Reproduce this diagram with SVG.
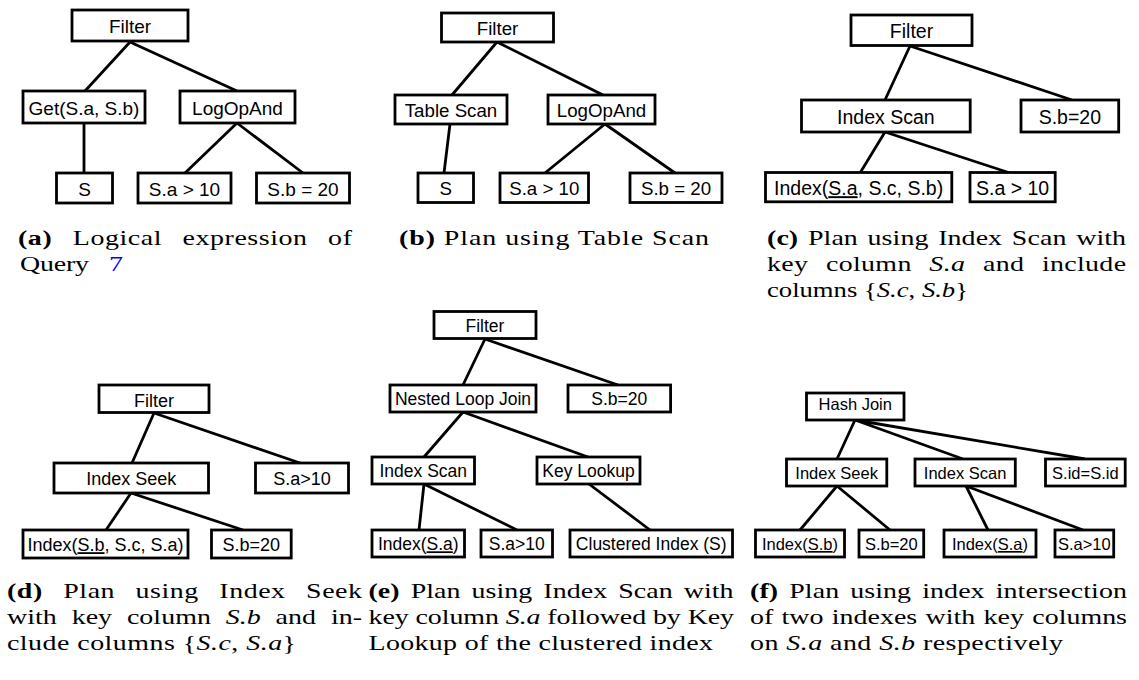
<svg xmlns="http://www.w3.org/2000/svg" width="1139" height="680" viewBox="0 0 1139 680">
<style>
.box{fill:#fff;stroke:#000;stroke-width:2.8}
.edge{stroke:#000;stroke-width:2.8;fill:none}
.lbl{font-family:"Liberation Sans",Arial,sans-serif;fill:#000;text-anchor:middle}
.pa{font-size:19px}.pb{font-size:18.7px}.pc{font-size:19.5px}.pd{font-size:18px}.pe{font-size:17.5px}.pf{font-size:16.5px}
.cap{font-family:"Liberation Serif","Times New Roman",serif;font-size:21.5px;fill:#000}
.ref{fill:#0000ff}
.b{font-weight:bold}.i{font-style:italic}
.u{text-decoration:underline}
</style>
<rect width="1139" height="680" fill="#fff"/>
<g id="connectors">
<path class="edge" d="M130,42 L85,91 M130,42 L237,91 M84,123 L84,173 M237,123 L185,173 M237,123 L303,173"/>
<path class="edge" d="M497,42 L452,95 M497,42 L603,95 M450,124 L444,173 M605,124 L545,173 M605,124 L675,173"/>
<path class="edge" d="M910,46 L885,100 M910,46 L1072,100 M885,132 L860,173 M885,132 L1010,173"/>
<path class="edge" d="M154,413 L132,463 M154,413 L300,463 M131,493 L106,530 M131,493 L243,530"/>
<path class="edge" d="M485,339 L463,385 M485,339 L618,385 M463,412 L424,457 M463,412 L588,457 M424,484 L419,530 M424,484 L517,530 M589,484 L650,530"/>
<path class="edge" d="M855,420 L837,459 M855,420 L963,459 M855,420 L1085,459 M837,486 L800,530 M837,486 L890,530 M966,486 L988,530 M966,486 L1083,530"/>
</g>
<!-- panel a -->
<g id="a-filter"><rect class="box" x="72" y="10" width="116" height="31"/><text class="lbl pa" x="130" y="33">Filter</text></g>
<g id="a-get"><rect class="box" x="23" y="91" width="122" height="32"/><text class="lbl pa" x="84" y="114.5">Get(S.a, S.b)</text></g>
<g id="a-logop"><rect class="box" x="180" y="91" width="115" height="32"/><text class="lbl pa" x="237.5" y="114.5">LogOpAnd</text></g>
<g id="a-s"><rect class="box" x="56.5" y="173" width="56" height="30"/><text class="lbl pa" x="84.5" y="195.5">S</text></g>
<g id="a-sa"><rect class="box" x="138" y="173" width="93" height="30"/><text class="lbl pa" x="184.5" y="195.5">S.a &gt; 10</text></g>
<g id="a-sb"><rect class="box" x="256.5" y="173" width="93" height="30"/><text class="lbl pa" x="303" y="195.5">S.b = 20</text></g>
<!-- panel b -->
<g id="b-filter"><rect class="box" x="441.5" y="13" width="112" height="29"/><text class="lbl pb" x="497.5" y="35">Filter</text></g>
<g id="b-table"><rect class="box" x="395" y="95" width="112" height="29"/><text class="lbl pb" x="451" y="117">Table Scan</text></g>
<g id="b-logop"><rect class="box" x="548" y="95" width="107" height="29"/><text class="lbl pb" x="601.5" y="117">LogOpAnd</text></g>
<g id="b-s"><rect class="box" x="418" y="173" width="55.5" height="29.5"/><text class="lbl pb" x="445.75" y="195.3">S</text></g>
<g id="b-sa"><rect class="box" x="500" y="173" width="88.5" height="29.5"/><text class="lbl pb" x="544.25" y="195.3">S.a &gt; 10</text></g>
<g id="b-sb"><rect class="box" x="630" y="173" width="92" height="29.5"/><text class="lbl pb" x="676" y="195.3">S.b = 20</text></g>
<!-- panel c -->
<g id="c-filter"><rect class="box" x="851" y="15" width="121" height="30.5"/><text class="lbl pc" x="911.5" y="38.3">Filter</text></g>
<g id="c-iscan"><rect class="box" x="801.5" y="100" width="168.7" height="32"/><text class="lbl pc" x="885.85" y="124">Index Scan</text></g>
<g id="c-sb"><rect class="box" x="1021" y="100" width="97.7" height="32"/><text class="lbl pc" x="1069.85" y="124">S.b=20</text></g>
<g id="c-index"><rect class="box" x="765.5" y="172.5" width="186.3" height="29.3"/><text class="lbl pc" x="858.65" y="195.2">Index(<tspan class="u">S.a</tspan>, S.c, S.b)</text></g>
<g id="c-sa"><rect class="box" x="970" y="172.5" width="85.2" height="29.3"/><text class="lbl pc" x="1012.6" y="195.2">S.a &gt; 10</text></g>
<!-- panel d -->
<g id="d-filter"><rect class="box" x="99" y="385" width="110" height="27.5"/><text class="lbl pd" x="154" y="406.5">Filter</text></g>
<g id="d-iseek"><rect class="box" x="54" y="463" width="154.5" height="30"/><text class="lbl pd" x="131.25" y="485">Index Seek</text></g>
<g id="d-sa"><rect class="box" x="255.5" y="463" width="93" height="30"/><text class="lbl pd" x="302" y="485">S.a&gt;10</text></g>
<g id="d-index"><rect class="box" x="23" y="530" width="165" height="28"/><text class="lbl pd" x="105.5" y="551.2">Index(<tspan class="u">S.b</tspan>, S.c, S.a)</text></g>
<g id="d-sb"><rect class="box" x="211.5" y="530" width="79.7" height="28"/><text class="lbl pd" x="251.35" y="551.2">S.b=20</text></g>
<!-- panel e -->
<g id="e-filter"><rect class="box" x="434" y="311.5" width="102" height="27"/><text class="lbl pe" x="485" y="332">Filter</text></g>
<g id="e-nlj"><rect class="box" x="390" y="385" width="146" height="27"/><text class="lbl pe" x="463" y="405.3">Nested Loop Join</text></g>
<g id="e-sb"><rect class="box" x="568" y="385" width="102.6" height="27"/><text class="lbl pe" x="619.3" y="405.3">S.b=20</text></g>
<g id="e-iscan"><rect class="box" x="372" y="457" width="102.5" height="27"/><text class="lbl pe" x="423.25" y="477.3">Index Scan</text></g>
<g id="e-key"><rect class="box" x="537" y="457" width="103" height="27"/><text class="lbl pe" x="588.5" y="477.3">Key Lookup</text></g>
<g id="e-idx"><rect class="box" x="372" y="530" width="92.5" height="27"/><text class="lbl pe" x="418.25" y="550.3">Index(<tspan class="u">S.a</tspan>)</text></g>
<g id="e-sa"><rect class="box" x="481" y="530" width="71.5" height="27"/><text class="lbl pe" x="516.75" y="550.3">S.a&gt;10</text></g>
<g id="e-clu"><rect class="box" x="570" y="530" width="162.5" height="27"/><text class="lbl pe" x="651.25" y="550.3">Clustered Index (S)</text></g>
<!-- panel f -->
<g id="f-hash"><rect class="box" x="806.5" y="393" width="97.5" height="27"/><text class="lbl pf" x="855.25" y="409.5">Hash Join</text></g>
<g id="f-iseek"><rect class="box" x="786.5" y="459" width="100.3" height="27"/><text class="lbl pf" x="836.65" y="478.8">Index Seek</text></g>
<g id="f-iscan"><rect class="box" x="915" y="459" width="100.3" height="27"/><text class="lbl pf" x="965.15" y="478.8">Index Scan</text></g>
<g id="f-sid"><rect class="box" x="1045.5" y="459" width="79.7" height="27"/><text class="lbl pf" x="1085.35" y="478.8">S.id=S.id</text></g>
<g id="f-idxb"><rect class="box" x="755.5" y="530" width="89" height="27"/><text class="lbl pf" x="800" y="550">Index(<tspan class="u">S.b</tspan>)</text></g>
<g id="f-sb"><rect class="box" x="859" y="530" width="64.7" height="27"/><text class="lbl pf" x="891.35" y="550">S.b=20</text></g>
<g id="f-idxa"><rect class="box" x="944" y="530" width="92" height="27"/><text class="lbl pf" x="990" y="550">Index(<tspan class="u">S.a</tspan>)</text></g>
<g id="f-sa"><rect class="box" x="1055" y="530" width="58.7" height="27"/><text class="lbl pf" x="1084.35" y="550">S.a&gt;10</text></g>
<!-- captions -->
<g id="captions">
<text class="cap" transform="translate(18,245) scale(1.3,1)" textLength="256.9" word-spacing="10"><tspan class="b">(a)</tspan> Logical expression of</text>
<text class="cap" transform="translate(20,271) scale(1.3,1)" textLength="53.1">Query</text>
<text class="cap ref" transform="translate(109,271) scale(1.3,1)">7</text>
<text class="cap" transform="translate(399,244.5) scale(1.3,1)" textLength="238.5"><tspan class="b">(b)</tspan> Plan using Table Scan</text>
<text class="cap" transform="translate(767,245) scale(1.3,1)" textLength="276.2" word-spacing="2"><tspan class="b">(c)</tspan> Plan using Index Scan with</text>
<text class="cap" transform="translate(767,271) scale(1.3,1)" textLength="276.2" word-spacing="8">key column <tspan class="i">S.a</tspan> and include</text>
<text class="cap" transform="translate(767,297) scale(1.24,1)">columns {<tspan class="i">S.c</tspan>, <tspan class="i">S.b</tspan>}</text>
<text class="cap" transform="translate(7,598) scale(1.3,1)" textLength="273.1" word-spacing="10"><tspan class="b">(d)</tspan> Plan using Index Seek</text>
<text class="cap" transform="translate(7,624) scale(1.3,1)" textLength="273.1" word-spacing="6">with key column <tspan class="i">S.b</tspan> and in-</text>
<text class="cap" transform="translate(7,650) scale(1.3,1)" textLength="222.3">clude columns {<tspan class="i">S.c</tspan>, <tspan class="i">S.a</tspan>}</text>
<text class="cap" transform="translate(368.5,598) scale(1.3,1)" textLength="280.8" word-spacing="3"><tspan class="b">(e)</tspan> Plan using Index Scan with</text>
<text class="cap" transform="translate(368.5,624) scale(1.3,1)" textLength="281.2">key column <tspan class="i">S.a</tspan> followed by Key</text>
<text class="cap" transform="translate(368.5,650) scale(1.3,1)" textLength="265">Lookup of the clustered index</text>
<text class="cap" transform="translate(750,598) scale(1.3,1)" textLength="290" word-spacing="3"><tspan class="b">(f)</tspan> Plan using index intersection</text>
<text class="cap" transform="translate(750,624) scale(1.3,1)" textLength="290" word-spacing="1">of two indexes with key columns</text>
<text class="cap" transform="translate(750,650) scale(1.3,1)" textLength="240.8">on <tspan class="i">S.a</tspan> and <tspan class="i">S.b</tspan> respectively</text>
</g>
</svg>
